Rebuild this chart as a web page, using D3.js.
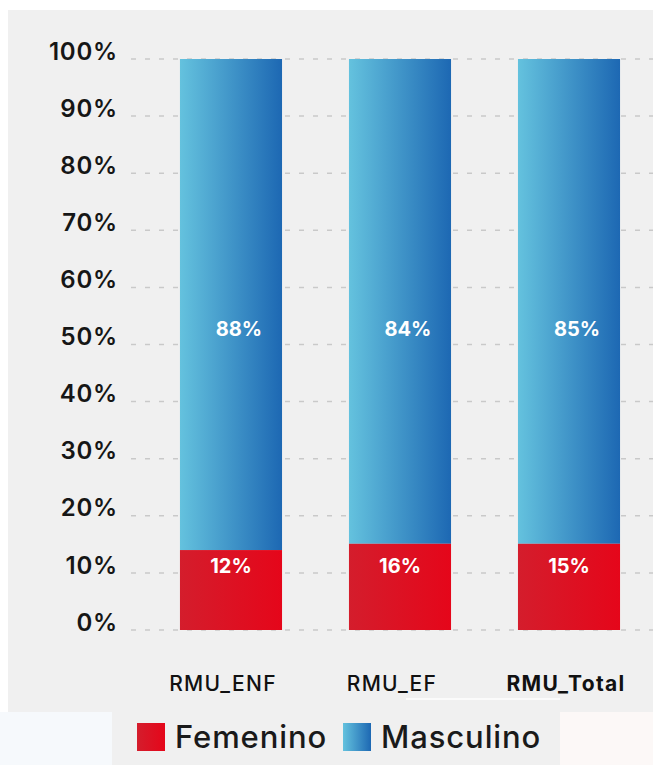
<!DOCTYPE html>
<html><head><meta charset="utf-8">
<script src="https://cdn.jsdelivr.net/npm/d3@7"></script>
<style>html,body{margin:0;padding:0;background:#fff;}svg{display:block;}</style>
</head><body>
<svg id="chart" width="653" height="765"></svg>
<script>
const categories = ["RMU_ENF", "RMU_EF", "RMU_Total"];
const femenino = [14.0, 15.1, 15.1];          // drawn segment heights (%)
const femeninoLabels = ["12%", "16%", "15%"];
const masculinoLabels = ["88%", "84%", "85%"];
const yTicks = [0, 10, 20, 30, 40, 50, 60, 70, 80, 90, 100];
const seriesNames = ["Femenino", "Masculino"];

const svg = d3.select("#chart");
const defs = svg.append("defs");
const gBlue = defs.append("linearGradient").attr("id", "gBlue").attr("x1", "0").attr("x2", "1").attr("y1", "0").attr("y2", "0");
gBlue.append("stop").attr("offset", "0").attr("stop-color", "#64c2de");
gBlue.append("stop").attr("offset", "1").attr("stop-color", "#1d68b3");
const gRed = defs.append("linearGradient").attr("id", "gRed").attr("x1", "0").attr("x2", "1").attr("y1", "0").attr("y2", "0");
gRed.append("stop").attr("offset", "0").attr("stop-color", "#d41d2c");
gRed.append("stop").attr("offset", "1").attr("stop-color", "#e5061a");

// backgrounds
svg.append("rect").attr("x", 0).attr("y", 712).attr("width", 112).attr("height", 53).attr("fill", "#f6f9fc");
svg.append("rect").attr("x", 560).attr("y", 712).attr("width", 93).attr("height", 53).attr("fill", "#fcf8f7");
svg.append("rect").attr("x", 112).attr("y", 712).attr("width", 448).attr("height", 53).attr("fill", "#f0f0f0");
svg.append("rect").attr("x", 8).attr("y", 10).attr("width", 645).attr("height", 702).attr("fill", "#f0f0f0");

const y = d3.scaleLinear().domain([0, 100]).range([630, 59]);
const x = d3.scaleBand().domain(categories).range([147, 653]).paddingInner(0.396).paddingOuter(0.195);

const FONT = "Inter, sans-serif";

// gridlines
svg.append("g").selectAll("line").data(yTicks).join("line")
  .attr("x1", 131).attr("x2", 653)
  .attr("y1", d => y(d)).attr("y2", d => y(d))
  .attr("stroke", "#c9c9c9").attr("stroke-width", 1.5).attr("stroke-dasharray", "5,9");

// y labels
svg.append("g").selectAll("text").data(yTicks).join("text")
  .attr("x", 118).attr("y", d => y(d) - 8).attr("dy", "0.36em")
  .attr("text-anchor", "end")
  .attr("font-family", FONT).attr("font-size", 24).attr("font-weight", 600)
  .attr("letter-spacing", 0.8).attr("fill", "#161616")
  .text(d => d + "%");

// bars
const bars = svg.append("g");
bars.selectAll("rect.m").data(categories).join("rect").attr("class", "m")
  .attr("x", d => x(d)).attr("width", x.bandwidth())
  .attr("y", y(100)).attr("height", (d, i) => y(femenino[i]) - y(100))
  .attr("fill", "url(#gBlue)");
bars.selectAll("rect.f").data(categories).join("rect").attr("class", "f")
  .attr("x", d => x(d)).attr("width", x.bandwidth())
  .attr("y", (d, i) => y(femenino[i])).attr("height", (d, i) => y(0) - y(femenino[i]))
  .attr("fill", "url(#gRed)");

// value labels
svg.append("g").selectAll("text").data(categories).join("text")
  .attr("x", d => x(d) + x.bandwidth() / 2 + 8).attr("y", y(52.7))
  .attr("dy", "0.36em").attr("text-anchor", "middle")
  .attr("font-family", FONT).attr("font-size", 20).attr("font-weight", 700)
  .attr("fill", "#ffffff").text((d, i) => masculinoLabels[i]);
svg.append("g").selectAll("text").data(categories).join("text")
  .attr("x", d => x(d) + x.bandwidth() / 2).attr("y", y(11.3))
  .attr("dy", "0.36em").attr("text-anchor", "middle")
  .attr("font-family", FONT).attr("font-size", 20).attr("font-weight", 700)
  .attr("fill", "#ffffff").text((d, i) => femeninoLabels[i]);

// category labels
svg.append("g").selectAll("text").data(categories).join("text")
  .attr("x", (d, i) => x(d) + x.bandwidth() / 2 - (i === 2 ? 3 : 8)).attr("y", 683)
  .attr("dy", "0.36em").attr("text-anchor", "middle")
  .attr("font-family", FONT).attr("font-size", 21)
  .attr("letter-spacing", 1.3)
  .attr("font-weight", (d, i) => i === 2 ? 700 : 500)
  .attr("fill", "#111").text(d => d);

// small white line under the labels
svg.append("line").attr("x1", 406).attr("x2", 560).attr("y1", 699).attr("y2", 699)
  .attr("stroke", "#ffffff").attr("stroke-width", 1.5);

// legend
const legend = svg.append("g");
const legendX = [137, 343];
const fills = ["url(#gRed)", "url(#gBlue)"];
seriesNames.forEach((name, i) => {
  legend.append("rect").attr("x", legendX[i]).attr("y", 723).attr("width", 28).attr("height", 28).attr("fill", fills[i]);
  legend.append("text").attr("x", legendX[i] + 38).attr("y", 737).attr("dy", "0.36em")
    .attr("font-family", FONT).attr("font-size", 31).attr("font-weight", 500)
    .attr("letter-spacing", 0.9)
    .attr("fill", "#1a1a1a").text(name);
});
</script>
</body></html>
